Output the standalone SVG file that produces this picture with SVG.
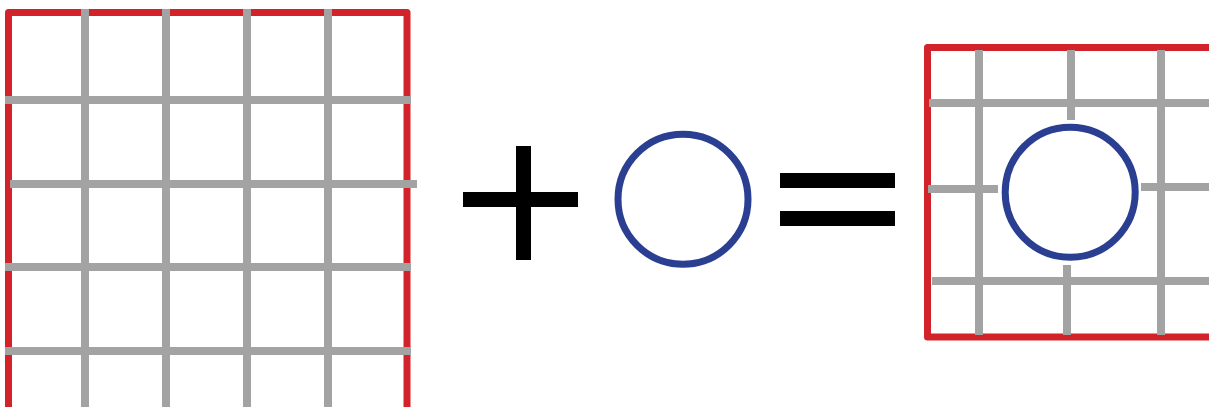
<svg xmlns="http://www.w3.org/2000/svg" width="1209" height="407" viewBox="0 0 1209 407">
  <style>
    .frame { fill: none; stroke: #d2232a; stroke-width: 7; stroke-linejoin: round; }
    .grid { stroke: #a3a3a3; stroke-width: 8; fill: none; }
    .ring { fill: none; stroke: #2a3f91; stroke-width: 7; }
    .sym { fill: #000000; }
  </style>
  <rect width="1209" height="407" fill="#ffffff"/>
  <g id="grid-left">
    <path class="frame" d="M8.5,407 V12.5 H407 V407"/>
    <g class="grid">
      <line x1="85" y1="9" x2="85" y2="407"/>
      <line x1="166" y1="9" x2="166" y2="407"/>
      <line x1="247" y1="9" x2="247" y2="407"/>
      <line x1="328" y1="9" x2="328" y2="407"/>
      <line x1="5" y1="100" x2="411" y2="100"/>
      <line x1="10" y1="184" x2="417" y2="184"/>
      <line x1="5" y1="267" x2="411" y2="267"/>
      <line x1="5" y1="351" x2="411" y2="351"/>
    </g>
  </g>
  <g id="plus">
    <rect class="sym" x="463" y="192" width="115" height="15"/>
    <rect class="sym" x="516" y="146" width="15" height="114"/>
  </g>
  <g id="circle">
    <circle class="ring" cx="683" cy="199.3" r="65"/>
  </g>
  <g id="equals">
    <rect class="sym" x="780" y="173" width="115" height="15"/>
    <rect class="sym" x="780" y="211" width="115" height="15"/>
  </g>
  <g id="grid-right">
    <path class="frame" d="M1212,47.5 H927.5 V337 H1212"/>
    <g class="grid">
      <line x1="979" y1="50" x2="979" y2="335"/>
      <line x1="1161" y1="50" x2="1161" y2="335"/>
      <line x1="1071" y1="50" x2="1071" y2="120"/>
      <line x1="1067" y1="265" x2="1067" y2="335"/>
      <line x1="929" y1="103" x2="1209" y2="103"/>
      <line x1="928" y1="189" x2="998" y2="189"/>
      <line x1="1141" y1="187" x2="1209" y2="187"/>
      <line x1="932" y1="281" x2="1209" y2="281"/>
    </g>
    <circle class="ring" cx="1070.2" cy="192.3" r="65"/>
  </g>
  <g id="connectors"/>
</svg>
